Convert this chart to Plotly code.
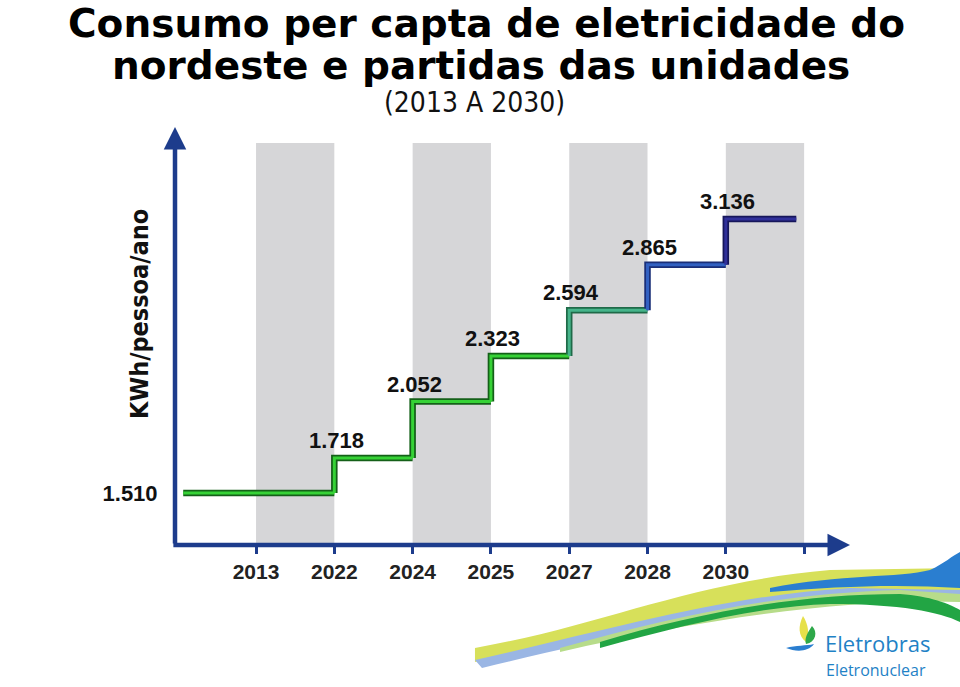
import plotly.graph_objects as go

# ---------------- data ----------------
YEARS = ["2013", "2022", "2024", "2025", "2027", "2028", "2030"]
VALUES = [1.510, 1.718, 2.052, 2.323, 2.594, 2.865, 3.136]
VALUE_LABELS = ["1.510", "1.718", "2.052", "2.323", "2.594", "2.865", "3.136"]
TITLE_LINES = ["Consumo per capta de eletricidade do", "nordeste e partidas das unidades"]
SUBTITLE = "(2013 A 2030)"
Y_TITLE = "KWh/pessoa/ano"
LOGO_MAIN = "Eletrobras"
LOGO_SUB = "Eletronuclear"

# ---------------- styling ----------------
W, H = 960, 687
ML, MR, MT, MB = 175, 110, 127, 142
PW, PH = W - ML - MR, H - MT - MB
X_RANGE = [-1.035, 7.586]
Y_RANGE = [1.201, 3.682]
LEAD_START = -0.93
TAIL_END = 6.9
NUMFONT = "Liberation Sans, Arial, sans-serif"
NARROW = "DejaVu Sans Condensed, Liberation Sans, sans-serif"
TITLEFONT = "DejaVu Sans, Liberation Sans, sans-serif"
LOGOFONT = "Open Sans, Noto Sans, sans-serif"
AXIS_COLOR = "#1d3c8c"
BAND_COLOR = "#d6d6d8"
SEG_CORE = ["#36d236", "#36d236", "#36d236", "#36d236", "#46b48a", "#3261c2", "#30309a"]
SEG_EDGE = ["#146018", "#146018", "#146018", "#146018", "#1f6a48", "#1a2f78", "#16165a"]


def px(x):
    return (x - ML) / PW


def py(y):
    return (H - MB - y) / PH


def path_px(cmds):
    out = []
    for c in cmds:
        if isinstance(c, str):
            out.append(c)
        else:
            out.append(f"{px(c[0]):.4f},{py(c[1]):.4f}")
    return " ".join(out)


fig = go.Figure()

n = len(VALUES)
segs = []
for k in range(n):
    start = LEAD_START if k == 0 else k
    end = k + 1 if k < n - 1 else TAIL_END
    if k == 0:
        xs, ys = [start, end], [VALUES[0], VALUES[0]]
    else:
        xs, ys = [k, k, end], [VALUES[k - 1], VALUES[k], VALUES[k]]
    segs.append((xs, ys))

for k, (xs, ys) in enumerate(segs):
    fig.add_trace(go.Scatter(x=xs, y=ys, mode="lines", hoverinfo="skip",
                             line=dict(color=SEG_EDGE[k], width=6.5), showlegend=False))
for k, (xs, ys) in enumerate(segs):
    fig.add_trace(go.Scatter(x=xs, y=ys, mode="lines",
                             line=dict(color=SEG_CORE[k], width=3), showlegend=False))

shapes = []
# grey bands between alternate ticks
n_ticks = len(YEARS) + 1
for i in range(0, n_ticks - 1, 2):
    shapes.append(dict(type="rect", xref="x", yref="paper", x0=i, x1=i + 1,
                       y0=0, y1=py(143), fillcolor=BAND_COLOR, line=dict(width=0),
                       layer="below"))

# decorative swoosh (bottom right)
swoosh = [
    ("#d7e05a", ["M", (475, 648), "C", (600, 626), (690, 582), (830, 570), "L", (960, 568),
                 "L", (960, 592), "C", (830, 590), (700, 606), (475, 662), "Z"]),
    ("#9ab6e4", ["M", (475, 660), "C", (610, 630), (720, 596), (850, 588), "L", (960, 590),
                 "L", (960, 600), "C", (840, 598), (700, 614), (482, 668), "Z"]),
    ("#b7dc8a", ["M", (560, 648), "C", (680, 615), (780, 593), (900, 590), "L", (960, 594),
                 "L", (960, 602), "C", (860, 598), (720, 615), (560, 652), "Z"]),
    ("#22a544", ["M", (600, 642), "C", (700, 612), (800, 594), (900, 594),
                 "C", (930, 596), (950, 604), (960, 610), "L", (960, 622),
                 "C", (940, 612), (900, 604), (830, 604), "C", (760, 606), (680, 626), (600, 648), "Z"]),
    ("#2a7ed0", ["M", (770, 588), "C", (840, 574), (900, 578), (930, 570),
                 "C", (945, 563), (952, 556), (960, 552), "L", (960, 588),
                 "C", (900, 584), (840, 586), (770, 592), "Z"]),
]
for color, cmds in swoosh:
    shapes.append(dict(type="path", xref="paper", yref="paper", path=path_px(cmds),
                       fillcolor=color, line=dict(width=0), layer="above"))

# logo icon
icon = [
    ("#e6e04a", ["M", (803, 616), "C", (798, 626), (798, 636), (806, 642), "C", (810, 634), (808, 624), (803, 616), "Z"]),
    ("#2ea84a", ["M", (806, 644), "C", (816, 642), (818, 632), (812, 626), "C", (808, 632), (804, 638), (806, 644), "Z"]),
    ("#2a7ed0", ["M", (786, 648), "C", (796, 652), (808, 652), (814, 644), "C", (806, 646), (796, 645), (786, 648), "Z"]),
]
for color, cmds in icon:
    shapes.append(dict(type="path", xref="paper", yref="paper", path=path_px(cmds),
                       fillcolor=color, line=dict(width=0), layer="above"))

annotations = []
# axis arrows
annotations.append(dict(x=X_RANGE[1], y=Y_RANGE[0], ax=X_RANGE[0] - 0.04, ay=Y_RANGE[0],
                        xref="x", yref="y", axref="x", ayref="y", text="", showarrow=True,
                        arrowhead=2, arrowsize=1.0, arrowwidth=4.5, arrowcolor=AXIS_COLOR))
annotations.append(dict(x=X_RANGE[0], y=Y_RANGE[1], ax=X_RANGE[0], ay=Y_RANGE[0],
                        xref="x", yref="y", axref="x", ayref="y", text="", showarrow=True,
                        arrowhead=2, arrowsize=1.0, arrowwidth=4.5, arrowcolor=AXIS_COLOR))

# value labels above each step
for k in range(1, n):
    annotations.append(dict(x=k, y=VALUES[k], xref="x", yref="y", text=VALUE_LABELS[k],
                            showarrow=False, xanchor="center", yanchor="bottom",
                            xshift=2, yshift=3,
                            font=dict(family=NUMFONT, size=22, color="#111111", weight="bold")))

# titles
annotations.append(dict(x=px(486), y=py(0), xref="paper", yref="paper", text=TITLE_LINES[0],
                        showarrow=False, xanchor="center", yanchor="top", borderpad=0,
                        font=dict(family=TITLEFONT, size=39, color="#000000", weight="bold")))
annotations.append(dict(x=px(481), y=py(65), xref="paper", yref="paper", text=TITLE_LINES[1],
                        showarrow=False, xanchor="center", yanchor="middle",
                        font=dict(family=TITLEFONT, size=39, color="#000000", weight="bold")))
annotations.append(dict(x=px(474), y=py(103), xref="paper", yref="paper", text=SUBTITLE,
                        showarrow=False, xanchor="center", yanchor="middle",
                        font=dict(family=NARROW, size=28, color="#111111")))
annotations.append(dict(x=px(139), y=py(314), xref="paper", yref="paper", text=Y_TITLE,
                        showarrow=False, textangle=-90, xanchor="center", yanchor="middle",
                        font=dict(family=NARROW, size=25, color="#111111", weight="bold")))
annotations.append(dict(x=px(823), y=py(643), xref="paper", yref="paper", text=LOGO_MAIN,
                        showarrow=False, xanchor="left", yanchor="middle",
                        font=dict(family=LOGOFONT, size=22, color="#1f82c6")))
annotations.append(dict(x=px(824), y=py(670), xref="paper", yref="paper", text=LOGO_SUB,
                        showarrow=False, xanchor="left", yanchor="middle",
                        font=dict(family=LOGOFONT, size=16, color="#1f82c6")))

fig.update_layout(
    width=W, height=H,
    margin=dict(l=ML, r=MR, t=MT, b=MB, autoexpand=False),
    paper_bgcolor="white", plot_bgcolor="white",
    showlegend=False,
    shapes=shapes,
    annotations=annotations,
    xaxis=dict(range=X_RANGE, tickvals=list(range(n_ticks)), ticktext=YEARS + [""],
               ticks="outside", ticklen=8, tickwidth=2.5, tickcolor=AXIS_COLOR,
               showgrid=False, zeroline=False, showline=False, fixedrange=True,
               automargin=False,
               tickfont=dict(family=NUMFONT, size=21, color="#222222", weight="bold")),
    yaxis=dict(range=Y_RANGE, tickvals=[VALUES[0]], ticktext=[VALUE_LABELS[0]],
               ticks="outside", ticklen=12, tickcolor="rgba(0,0,0,0)",
               showgrid=False, zeroline=False, showline=False, fixedrange=True,
               automargin=False,
               tickfont=dict(family=NUMFONT, size=22, color="#111111", weight="bold")),
)

fig.write_html("out.html", config={"displayModeBar": False},
               post_script="document.body.style.margin='0px';")
